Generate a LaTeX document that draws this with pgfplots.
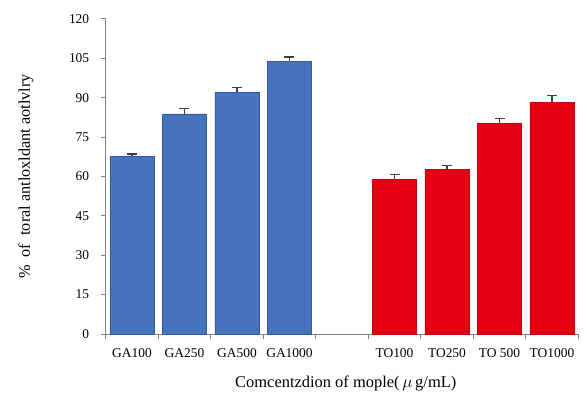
\documentclass[border=0pt]{standalone}
\usepackage{pgfplots}
\pgfplotsset{compat=1.18}
\usepackage{fontspec}
\setmainfont{Liberation Serif}
\definecolor{gablue}{RGB}{70,114,190}
\definecolor{tored}{RGB}{228,0,18}
\definecolor{axgray}{RGB}{130,130,130}
\begin{document}
\begin{tikzpicture}
\begin{axis}[
  scale only axis,
  width=472.6bp, height=315bp,
  xmin=-0.5, xmax=8.5,
  ymin=0, ymax=120,
  axis x line=bottom, axis y line=left,
  axis line style={-, draw=axgray, line width=1pt},
  ytick={0,15,...,120},
  xtick={0,1,2,3,4,5,6,7,8},
  xticklabels={GA100,GA250,GA500,GA1000,,TO100,TO250,TO 500,TO1000},
  major x tick style={draw=none},
  minor xtick={-0.5,0.5,...,8.5},
  minor x tick style={draw=axgray, line width=1pt},
  minor tick length=5bp,
  major tick length=5bp,
  y tick style={draw=axgray, line width=1pt},
  tick align=outside,
  /pgf/number format/assume math mode=true,
  tick label style={font=\fontsize{13.5}{15}\selectfont, text=black},
  yticklabel style={xshift=-8bp},
  xticklabel style={yshift=-6bp},
  ylabel={\%\ \ of\ \ toral antloxldant aotlvlry},
  ylabel style={at={(axis description cs:-0.169,0.5)}, anchor=center, rotate=0, font=\fontsize{16.3}{18}\selectfont},
  xlabel={Comcentzdion of mople(\,$\mu$\,g/mL)},
  xlabel style={at={(axis description cs:0.508,-0.156)}, anchor=center, font=\fontsize{16.5}{18}\selectfont},
  ybar, bar width=0.84,
  bar shift=0pt,
  clip=false,
]
\addplot+[fill=gablue, draw=gablue!80!black, line width=0.4pt,
  error bars/.cd, y dir=plus, y explicit,
  error bar style={line width=1.2pt, black!75},
  error mark options={line width=1.2pt, black!75, mark size=5bp, rotate=90}]
  coordinates {(0,67.7) +- (0,0.9) (1,83.9) +- (0,1.9) (2,92.1) +- (0,1.9) (3,103.9) +- (0,1.6)};
\addplot+[fill=tored, draw=tored!85!black, line width=0.4pt,
  error bars/.cd, y dir=plus, y explicit,
  error bar style={line width=1.2pt, black!75},
  error mark options={line width=1.2pt, black!75, mark size=5bp, rotate=90}]
  coordinates {(5,58.8) +- (0,1.9) (6,62.6) +- (0,1.6) (7,80.2) +- (0,1.9) (8,88.3) +- (0,2.6)};
\coordinate (o) at (rel axis cs:0,0);
\end{axis}
\pgfresetboundingbox
\path (o) ++(-105.7bp,-60bp) rectangle ++(587bp,394bp);
\end{tikzpicture}
\end{document}
